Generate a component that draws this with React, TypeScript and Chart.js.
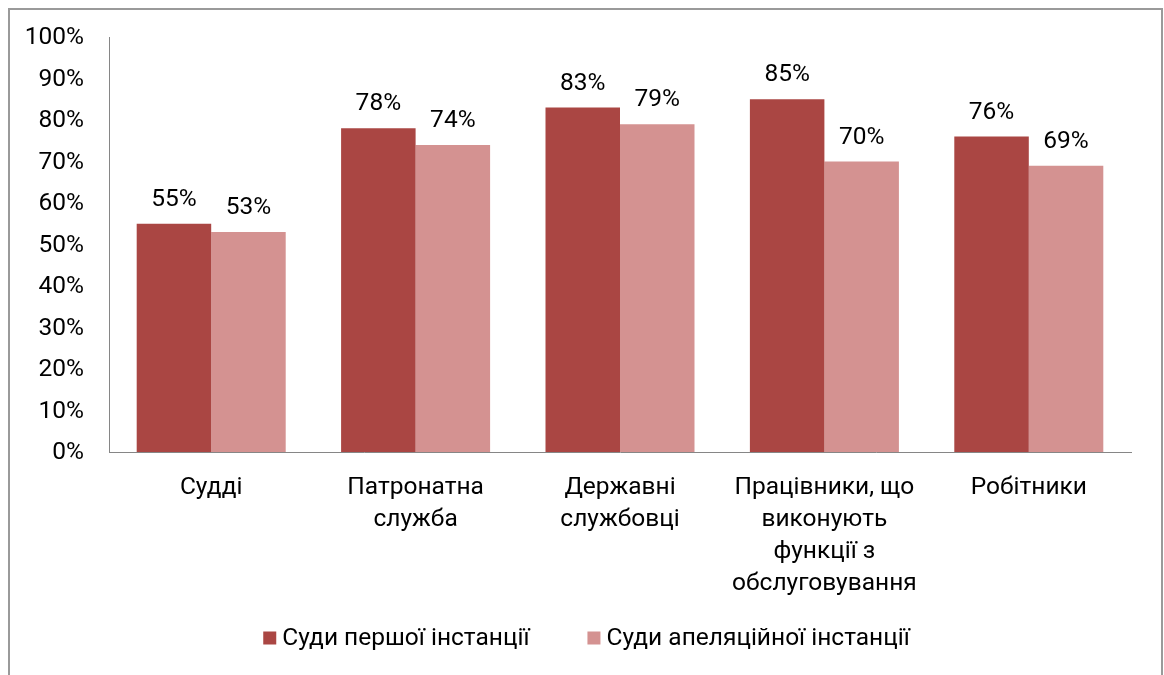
import React, { useEffect, useRef } from "react";
import { Chart, registerables } from "chart.js";

Chart.register(...registerables);

const categories: (string | string[])[] = [
  "Судді",
  ["Патронатна", "служба"],
  ["Державні", "службовці"],
  ["Працівники, що", "виконують", "функції з", "обслуговування"],
  "Робітники",
];
const seriesNames = ["Суди першої інстанції", "Суди апеляційної інстанції"];
const firstInstance = [55, 78, 83, 85, 76];
const appealInstance = [53, 74, 79, 70, 69];
const yTicks = [0, 10, 20, 30, 40, 50, 60, 70, 80, 90, 100];

const FONT = "Roboto";
const FS = 24.5;
const AXIS = "#868686";
const COLORS = ["#AA4643", "#D49291"];

const valueLabels = {
  id: "valueLabels",
  afterDatasetsDraw(chart: any) {
    const ctx = chart.ctx;
    ctx.save();
    ctx.font = `${FS}px ${FONT}`;
    ctx.fillStyle = "#000";
    ctx.textAlign = "center";
    ctx.textBaseline = "alphabetic";
    chart.data.datasets.forEach((ds: any, i: number) => {
      const meta = chart.getDatasetMeta(i);
      meta.data.forEach((bar: any, j: number) => {
        ctx.fillText(`${ds.data[j]}%`, bar.x, bar.y - 18);
      });
    });
    ctx.restore();
  },
};

const bottomLegend = {
  id: "bottomLegend",
  afterDraw(chart: any) {
    const ctx = chart.ctx;
    ctx.save();
    ctx.font = `${FS}px ${FONT}`;
    ctx.textBaseline = "middle";
    ctx.textAlign = "left";
    const box = 13;
    const gapBoxText = 6;
    const itemGap = 58;
    const items = chart.data.datasets.map((ds: any) => ({
      text: ds.label,
      color: ds.backgroundColor,
      w: box + gapBoxText + ctx.measureText(ds.label).width,
    }));
    const total =
      items.reduce((a: number, it: any) => a + it.w, 0) + itemGap * (items.length - 1);
    let x = chart.width / 2 + 2 - total / 2;
    const cy = chart.height - 37;
    items.forEach((it: any) => {
      ctx.fillStyle = it.color;
      ctx.fillRect(x, cy - box / 2, box, box);
      ctx.fillStyle = "#000";
      ctx.fillText(it.text, x + box + gapBoxText, cy + 1);
      x += it.w + itemGap;
    });
    ctx.restore();
  },
};

export default function App() {
  const ref = useRef<HTMLCanvasElement>(null);
  useEffect(() => {
    if (!ref.current) return;
    const chart = new Chart(ref.current, {
      type: "bar",
      data: {
        labels: categories,
        datasets: [
          {
            label: seriesNames[0],
            data: firstInstance,
            backgroundColor: COLORS[0],
            categoryPercentage: 0.729,
            barPercentage: 1,
          },
          {
            label: seriesNames[1],
            data: appealInstance,
            backgroundColor: COLORS[1],
            categoryPercentage: 0.729,
            barPercentage: 1,
          },
        ],
      },
      options: {
        animation: false,
        responsive: false,
        maintainAspectRatio: false,
        layout: { padding: { top: 27, left: 0, right: 0, bottom: 0 } },
        plugins: {
          legend: { display: false },
          tooltip: { enabled: false },
        },
        scales: {
          x: {
            grid: { display: false },
            border: { display: true, color: AXIS, width: 1 },
            ticks: {
              font: { family: FONT, size: FS, lineHeight: "32px" } as any,
              color: "#000",
              padding: 12,
              maxRotation: 0,
              autoSkip: false,
            },
            afterFit: (s: any) => {
              s.height = 223;
              s.paddingLeft = 0;
              s.paddingRight = 0;
            },
          },
          y: {
            min: 0,
            max: 100,
            grid: { display: false },
            border: { display: true, color: AXIS, width: 1 },
            afterBuildTicks: (s: any) => {
              s.ticks = yTicks.map((v) => ({ value: v }));
            },
            ticks: {
              font: { family: FONT, size: FS },
              color: "#000",
              padding: 17,
              labelOffset: 1,
              callback: (v: any) => `${v}%`,
            },
            afterFit: (s: any) => {
              s.width = 99;
              s.paddingTop = 0;
              s.paddingBottom = 0;
            },
          },
          yRight: {
            position: "right",
            display: true,
            grid: { display: false },
            border: { display: false },
            ticks: { display: false },
            afterFit: (s: any) => {
              s.width = 28;
              s.paddingTop = 0;
              s.paddingBottom = 0;
            },
          },
        },
      },
      plugins: [valueLabels, bottomLegend],
    });
    return () => chart.destroy();
  }, []);

  return (
    <div
      style={{
        position: "absolute",
        left: 8,
        top: 8,
        width: 1151,
        height: 700,
        border: "2px solid #9a9a9a",
        borderBottom: "none",
        background: "#fff",
        overflow: "hidden",
      }}
    >
      <canvas ref={ref} width={1149} height={665} style={{ display: "block" }} />
    </div>
  );
}
